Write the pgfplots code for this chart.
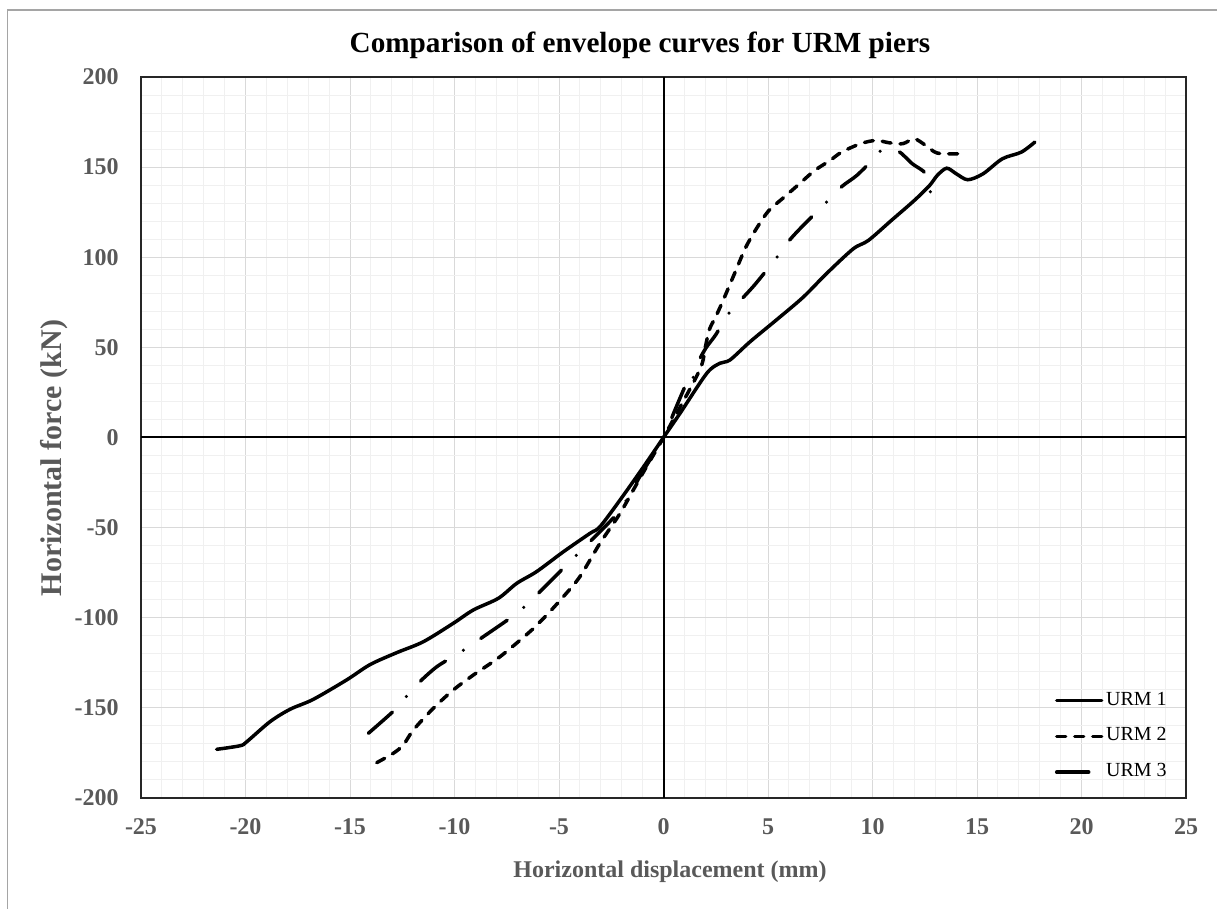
\documentclass[border=0pt]{standalone}
\usepackage{fontspec}
\setmainfont{Liberation Serif}
\usepackage{pgfplots}
\pgfplotsset{compat=1.18}
\definecolor{lblgray}{RGB}{89,89,89}
\definecolor{majgrid}{RGB}{217,217,217}
\definecolor{mingrid}{RGB}{240,240,240}
\definecolor{framegray}{RGB}{165,165,165}
\begin{document}
\begin{tikzpicture}
\useasboundingbox (0pt,0pt) rectangle (608.5pt,454.5pt);
\draw[framegray, line width=0.6pt] (3.65pt,-5pt) -- (3.65pt,449.5pt) -- (615pt,449.5pt);
\node[anchor=base, inner sep=0pt, font=\fontsize{14.6}{17}\selectfont\bfseries] at (320pt,428pt) {Comparison of envelope curves for URM piers};
\node[anchor=base, inner sep=0pt, font=\fontsize{12}{14}\selectfont\bfseries, text=lblgray] at (335pt,15.5pt) {Horizontal displacement (mm)};
\node[anchor=base, inner sep=0pt, rotate=90, font=\fontsize{15}{17}\selectfont\bfseries, text=lblgray] at (30.85pt,225.5pt) {Horizontal force (kN)};
\begin{axis}[
  at={(70.5pt,55.5pt)}, anchor=south west,
  scale only axis, width=522.5pt, height=360.5pt,
  xmin=-25, xmax=25, ymin=-200, ymax=200,
  xtick distance=5, ytick distance=50,
  minor x tick num=4, minor y tick num=4,
  grid=both,
  major grid style={majgrid, line width=0.5pt},
  minor grid style={mingrid, line width=0.5pt},
  axis line style={black!85, line width=0.7pt},
  major tick length=0pt, minor tick length=0pt,
  /pgf/number format/assume math mode=true,
  tick label style={font=\fontsize{12}{14}\selectfont\bfseries, text=lblgray},
  xticklabel style={anchor=north, inner sep=0pt, yshift=-10pt},
  yticklabel style={anchor=east, inner sep=0pt, xshift=-11pt},
  legend cell align=left,
  legend style={draw=none, fill=none, inner sep=0pt, outer sep=0pt,
    at={(0.8746,0.147)}, anchor=north west,
    font=\fontsize{10}{12}\selectfont, row sep=9.4pt,
    nodes={inner sep=0pt, text height=6.5pt, text depth=2pt},
    /tikz/every odd column/.append style={column sep=1.3pt}},
  legend image code/.code={\draw[#1] (0pt,0pt) -- (22.5pt,0pt);},
]
\draw[black, line width=1pt] (axis cs:0,-200) -- (axis cs:0,200);
\draw[black, line width=1pt] (axis cs:-25,0) -- (axis cs:25,0);

\addplot[black, line width=1.75pt, line cap=round, smooth] coordinates {
(-21.38,-173.0) (-20.26,-171.0) (-19.94,-168.8) (-18.83,-157.7) (-17.87,-150.8)
(-16.76,-145.3) (-15.16,-134.5) (-14.04,-126.0) (-12.77,-119.4) (-11.49,-113.3)
(-10.06,-103.1) (-9.10,-95.7) (-7.90,-89.2) (-7.02,-80.9) (-6.07,-74.4)
(-4.79,-63.4) (-3.52,-53.2) (-3.04,-49.5) (-2.08,-34.7) (-1.0,-17) (0,0)
(0.79,13.4) (2.07,35.6) (2.70,41.2) (3.18,43.0) (4.14,53.1) (5.40,65.2)
(6.68,77.8) (7.78,90.7) (9.07,104.6) (9.80,109.3) (10.90,120.4) (12.0,131.5)
(12.73,139.8) (13.10,145.4) (13.55,149.4) (14.01,146.3) (14.56,143.0)
(15.29,146.3) (16.21,154.6) (17.12,158.3) (17.77,163.9)
};
\addlegendentry{URM 1}

\addplot[black, line width=1.75pt, line cap=round, dash pattern=on 4.5pt off 4.5pt, smooth] coordinates {
(-13.72,-180.4) (-12.93,-175.2) (-12.45,-170.6) (-11.97,-162.3) (-11.01,-150.2)
(-10.06,-140.1) (-9.10,-131.8) (-7.82,-121.6) (-6.39,-107.7) (-5.59,-98.5)
(-4.79,-88.3) (-4.0,-77.2) (-3.04,-58.7) (-2.08,-42.1) (-1.1,-22) (0,0)
(0.8,17) (1.5,32) (1.85,41) (2.0,50) (2.2,60) (2.5,67) (2.85,76) (3.39,90.7)
(3.94,105.6) (4.49,116.7) (5.04,125.9) (5.77,133.3) (6.5,140.7) (7.23,148.1)
(7.97,153.7) (8.52,158.3) (9.43,163) (10.16,164.8) (10.8,163.5) (11.45,163)
(12.0,165.7) (12.55,162) (13.1,157.8) (14.1,157.4)
};
\addlegendentry{URM 2}

\addplot[black, line width=1.75pt, line cap=round, dash pattern=on 16pt off 10.5pt on 0pt off 10.5pt, smooth] coordinates {
(-14.12,-164.1) (-12.77,-150.2) (-12.21,-142.3) (-11.57,-134.5) (-10.85,-127.2)
(-10.13,-122.0) (-9.39,-116.6) (-8.62,-110.5) (-7.19,-99.0) (-6.47,-92.0)
(-5.83,-84.6) (-4.56,-69.8) (-3.91,-62.4) (-3.28,-55.0) (-2.08,-40.2) (-1.0,-19) (0,0)
(0.55,15.3) (1.2,32.5) (1.35,31) (1.67,42) (2.05,50) (2.5,57) (3.1,68.5)
(3.75,76.9) (4.40,85.2) (5.49,100.9) (6.04,109.6) (6.68,117.6) (7.91,131.9)
(8.55,139.4) (9.25,145.4) (10.0,154) (10.53,160.2) (11.23,158.9) (11.9,151.9)
(12.55,146.3) (12.77,136.1)
};
\addlegendentry{URM 3}
\end{axis}
\end{tikzpicture}
\end{document}
